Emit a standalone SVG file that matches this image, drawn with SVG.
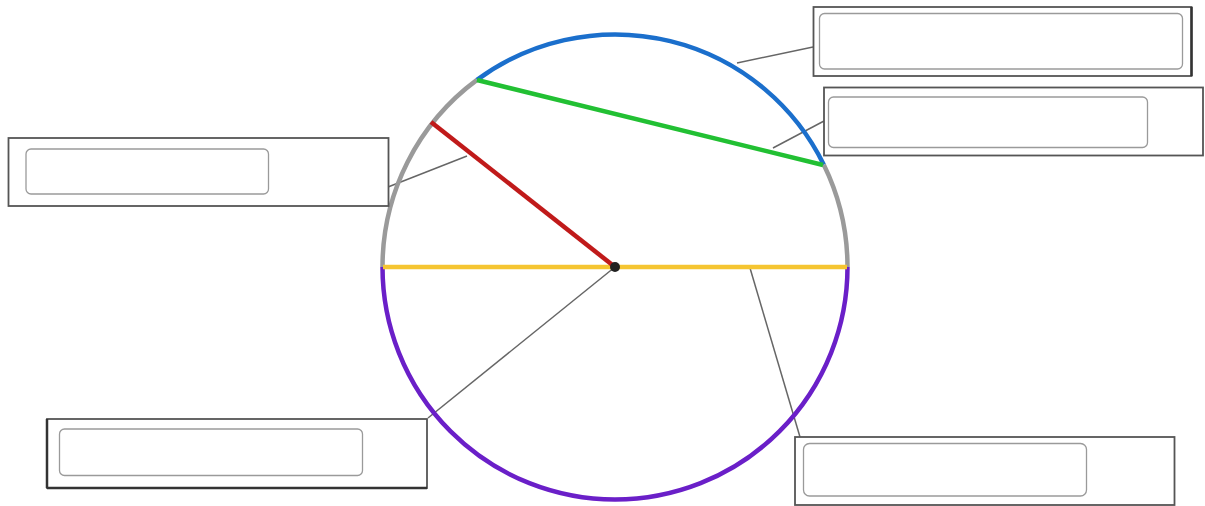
<svg xmlns="http://www.w3.org/2000/svg" width="1205" height="506" viewBox="0 0 1205 506">
<style>
.outer{fill:#fff;stroke:#555;stroke-width:1.8}
.inner{fill:#fff;stroke:#9a9a9a;stroke-width:1.3}
.shadow{stroke:#333;stroke-width:2.5;fill:none}
.leader{stroke:#666;stroke-width:1.5;fill:none}
.arc{fill:none;stroke-width:4.5;stroke-linecap:butt}
</style>
<rect width="1205" height="506" fill="#fff"/>
<g id="connectors">
<line class="leader" x1="737" y1="63" x2="813" y2="47"/>
<line class="leader" x1="773" y1="148" x2="824" y2="121"/>
<line class="leader" x1="388" y1="187" x2="467" y2="156"/>
<line class="leader" x1="615" y1="267" x2="428" y2="418"/>
<line class="leader" x1="750" y1="268" x2="800" y2="437"/>
</g>
<g id="circle">
<path class="arc" stroke="#9a9a9a" d="M 382.5 267 A 232.5 232.5 0 0 1 477 79.9"/>
<path class="arc" stroke="#1b6fcc" d="M 477 79.9 A 232.5 232.5 0 0 1 823.8 164.7"/>
<path class="arc" stroke="#9a9a9a" d="M 823.8 164.7 A 232.5 232.5 0 0 1 847.5 267"/>
<path class="arc" stroke="#6a1fc8" d="M 847.5 267 A 232.5 232.5 0 0 1 382.5 267"/>
</g>
<g id="diameter"><line x1="383" y1="267" x2="847" y2="267" stroke="#f5c531" stroke-width="4.5"/></g>
<g id="chord"><line x1="477" y1="80" x2="823" y2="165" stroke="#22c033" stroke-width="4.5"/></g>
<g id="radius"><line x1="431" y1="122" x2="615" y2="267" stroke="#c01a1a" stroke-width="4.5"/></g>
<g id="center"><circle cx="615" cy="267" r="5" fill="#222"/></g>
<g id="box-top-right">
<rect class="outer" x="813.5" y="7" width="378" height="69"/>
<line class="shadow" x1="1191.5" y1="7" x2="1191.5" y2="76"/>
<rect class="inner" x="819.5" y="13.5" width="363" height="55.5" rx="5"/>
</g>
<g id="box-mid-right">
<rect class="outer" x="824" y="87.5" width="379" height="68"/>
<rect class="inner" x="828.5" y="97" width="319" height="50.5" rx="5"/>
</g>
<g id="box-left">
<rect class="outer" x="8.5" y="138" width="380" height="68"/>
<rect class="inner" x="26" y="149" width="242.5" height="45" rx="5"/>
</g>
<g id="box-bottom-left">
<rect class="outer" x="47" y="419" width="380" height="69"/>
<line class="shadow" x1="47" y1="419" x2="47" y2="488"/>
<line class="shadow" x1="47" y1="488" x2="427" y2="488"/>
<rect class="inner" x="59.5" y="429" width="303" height="46.5" rx="5"/>
</g>
<g id="box-bottom-right">
<rect class="outer" x="795" y="437" width="379.5" height="68"/>
<rect class="inner" x="803.5" y="443.5" width="283" height="52.5" rx="6"/>
</g>
</svg>
